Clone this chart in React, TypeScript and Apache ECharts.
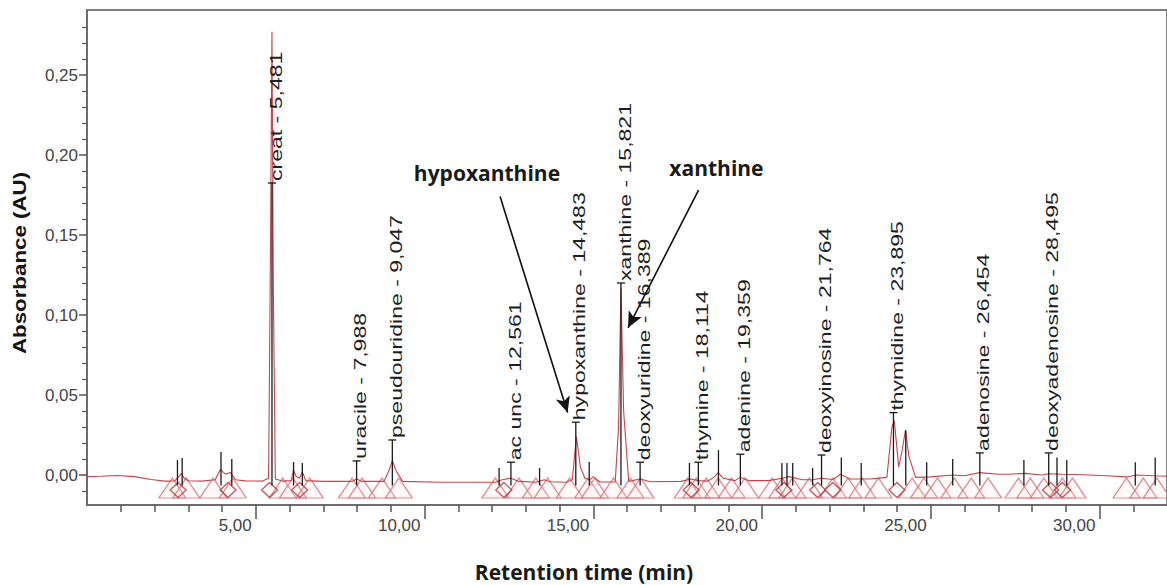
import React, { useEffect, useRef } from "react";
import * as echarts from "echarts";

// ---- chromatogram trace (retention time in min, absorbance in AU) ----
const retentionTimes = [
  0.0, 0.4, 0.9, 1.4, 1.9, 2.3, 2.6, 2.72, 2.8, 2.88,
  3.0, 3.4, 3.8, 3.95, 4.1, 4.25, 4.4, 4.7, 5.2, 5.38,
  5.44, 5.48, 5.52, 5.58, 5.8, 6.05, 6.12, 6.2, 6.3, 6.38,
  6.48, 7.0, 7.85, 7.99, 8.15, 8.8, 8.95, 9.05, 9.15, 9.35,
  10.5, 11.5, 12.1, 12.3, 12.56, 12.8, 13.3, 13.55, 13.7, 14.2,
  14.38, 14.5, 14.62, 14.75, 14.9, 15.0, 15.2, 15.65, 15.75, 15.82,
  15.9, 16.05, 16.39, 16.7, 17.6, 17.9, 18.1, 18.4, 18.6, 18.7,
  18.85, 19.2, 19.36, 19.6, 20.2, 20.6, 20.8, 21.2, 21.5, 21.76,
  22.1, 22.33, 22.6, 23.2, 23.7, 23.85, 23.92, 24.05, 24.15, 24.25,
  24.35, 24.55, 25.0, 25.65, 26.0, 26.45, 27.0, 27.3, 27.8, 28.3,
  28.5, 28.9, 29.5, 30.2, 30.8, 31.1, 31.6, 32.0,
];
const absorbance = [
  -0.001, -0.0008, -0.0003, -0.001, -0.0028, -0.0038, -0.0037, -0.001, 0.001, -0.002,
  -0.0036, -0.0038, -0.003, 0.0035, 0.0005, 0.0015, -0.003, -0.0037, -0.0038, -0.002,
  0.15, 0.277, 0.12, -0.0025, -0.0038, -0.0035, 0.003, -0.001, -0.002, 0.002,
  -0.0035, -0.004, -0.004, -0.0025, -0.004, -0.004, 0.003, 0.009, 0.003, -0.004,
  -0.0045, -0.0045, -0.0045, -0.003, -0.002, -0.004, -0.0045, -0.003, -0.0042, -0.0045,
  -0.003, 0.024, 0.005, -0.002, -0.003, -0.001, -0.0044, -0.0044, 0.03, 0.117,
  0.04, -0.004, -0.0025, -0.0042, -0.004, -0.0025, -0.0035, -0.0038, -0.001, 0.0015,
  -0.002, -0.0035, -0.0015, -0.0035, -0.0035, -0.002, -0.001, -0.003, -0.003, -0.002,
  -0.0028, 0.0005, -0.0025, -0.0025, -0.0015, 0.03, 0.034, 0.005, 0.015, 0.028,
  0.012, -0.0015, -0.0012, 0.0, -0.0005, 0.0015, 0.0005, 0.0005, 0.001, 0.0,
  0.0008, 0.0005, 0.0002, -0.0005, -0.0012, 0.0, -0.0005, -0.0008,
];

// ---- labelled peaks ----
const peakTimes = [5.481, 7.988, 9.047, 12.561, 14.483, 15.821, 16.389, 18.114, 19.359, 21.764, 23.895, 26.454, 28.495];
const peakNames = [
  "creat - 5,481",
  "uracile - 7,988",
  "pseudouridine - 9,047",
  "ac unc - 12,561",
  "hypoxanthine - 14,483",
  "xanthine - 15,821",
  "deoxyuridine - 16,389",
  "thymine - 18,114",
  "adenine - 19,359",
  "deoxyinosine - 21,764",
  "thymidine - 23,895",
  "adenosine - 26,454",
  "deoxyadenosine - 28,495",
];
const peakLabelLevels = [0.1825, 0.0088, 0.0219, 0.008, 0.033, 0.12, 0.008, 0.008, 0.013, 0.0125, 0.039, 0.0138, 0.0138];

// ---- unlabelled integration marks ----
const markerTimes = [2.68, 2.82, 3.97, 4.29, 6.12, 6.38, 12.21, 13.41, 14.88, 17.85, 18.71, 20.59, 20.74, 20.91, 21.5, 22.35, 22.94, 24.26, 24.88, 25.65, 27.76, 28.74, 29.03, 31.06, 31.65];
const markerTops = [0.0094, 0.0106, 0.0144, 0.01, 0.0081, 0.0075, 0.0044, 0.0044, 0.0081, 0.0075, 0.0156, 0.0075, 0.0075, 0.0075, 0.0044, 0.011, 0.0075, 0.028, 0.008, 0.01, 0.0094, 0.011, 0.0094, 0.008, 0.011];
const triangleTimes = [2.53, 2.94, 3.74, 4.32, 5.8, 6.1, 6.6, 7.85, 8.15, 8.74, 9.24, 12.1, 12.8, 13.3, 13.65, 14.3, 14.85, 15.05, 15.6, 16.1, 16.4, 17.8, 18.05, 18.35, 18.7, 19.1, 19.5, 20.3, 20.6, 20.9, 21.4, 22.1, 22.55, 22.97, 23.45, 24.45, 24.8, 25.2, 25.7, 26.2, 26.7, 27.6, 27.95, 28.35, 28.9, 29.2, 30.8, 31.3, 31.7];
const diamondTimes = [2.7, 4.18, 5.41, 6.3, 12.35, 17.9, 20.65, 21.65, 22.1, 24.0, 28.55, 28.9];

// ---- annotations ----
const annotationNames = ["hypoxanthine", "xanthine"];
const annotationTimes = [11.85, 18.65];
const annotationLevels = [0.189, 0.192];
const arrowStartTimes = [12.24, 18.12];
const arrowStartLevels = [0.174, 0.178];
const arrowEndTimes = [14.24, 16.03];
const arrowEndLevels = [0.039, 0.092];

// ---- axis ticks ----
const xMajorTicks = [5, 10, 15, 20, 25, 30];
const xMinorTicks = [1, 2, 3, 4, 6, 7, 8, 9, 11, 12, 13, 14, 16, 17, 18, 19, 21, 22, 23, 24, 26, 27, 28, 29, 31];
const yMajorTicks = [0, 0.05, 0.1, 0.15, 0.2, 0.25];
const yMinorTicks = [-0.01, 0.01, 0.02, 0.03, 0.04, 0.06, 0.07, 0.08, 0.09, 0.11, 0.12, 0.13, 0.14, 0.16, 0.17, 0.18, 0.19, 0.21, 0.22, 0.23, 0.24, 0.26, 0.27, 0.28];

const X_MIN = 0;
const X_MAX = 32;
const Y_MIN = -0.01875;
const Y_MAX = 0.290625;
const MARK_BOTTOM = -0.0065;
const TRIANGLE_LEVEL = -0.0081;
const DIAMOND_LEVEL = -0.0094;

const fmt = (v: number) => v.toFixed(2).replace(".", ",");
const SANS = '"Liberation Sans", Arial, sans-serif';

export default function App() {
  const ref = useRef<HTMLDivElement>(null);
  useEffect(() => {
    if (!ref.current) return;
    const chart = echarts.init(ref.current, undefined, { renderer: "svg" });
    const blackLine = { stroke: "#1b1b1b", lineWidth: 1.3 };

    const option: any = {
      animation: false,
      backgroundColor: "#ffffff",
      grid: {
        left: 87,
        right: -8,
        top: 10,
        bottom: 80,
        show: true,
        borderColor: "#808080",
        borderWidth: 2,
      },
      xAxis: [
        {
          type: "value",
          min: X_MIN,
          max: X_MAX,
          position: "bottom",
          axisLine: { show: true, onZero: false, lineStyle: { color: "#6c6c6c", width: 2 } },
          axisTick: { show: true, length: 14, customValues: xMajorTicks, lineStyle: { color: "#555", width: 1.5 } },
          axisLabel: {
            customValues: xMajorTicks,
            formatter: fmt,
            align: "right",
            padding: [0, 4, 0, 0],
            margin: 12,
            color: "#444",
            fontSize: 17,
            fontFamily: SANS,
          },
          splitLine: { show: false },
        },
        {
          type: "value",
          min: X_MIN,
          max: X_MAX,
          position: "bottom",
          axisLine: { show: false, onZero: false },
          axisTick: { show: true, length: 7, customValues: xMinorTicks, lineStyle: { color: "#555", width: 1.5 } },
          axisLabel: { show: false },
          splitLine: { show: false },
        },
      ],
      yAxis: [
        {
          type: "value",
          min: Y_MIN,
          max: Y_MAX,
          position: "left",
          axisLine: { show: true, onZero: false, lineStyle: { color: "#6c6c6c", width: 2 } },
          axisTick: { show: true, length: 8, customValues: yMajorTicks, lineStyle: { color: "#555", width: 1.5 } },
          axisLabel: {
            customValues: yMajorTicks,
            formatter: fmt,
            margin: 9,
            color: "#444",
            fontSize: 17,
            fontFamily: SANS,
          },
          splitLine: { show: false },
        },
        {
          type: "value",
          min: Y_MIN,
          max: Y_MAX,
          position: "left",
          axisLine: { show: false, onZero: false },
          axisTick: { show: true, length: 5, customValues: yMinorTicks, lineStyle: { color: "#555", width: 1.2 } },
          axisLabel: { show: false },
          splitLine: { show: false },
        },
      ],
      graphic: [
        {
          type: "text",
          x: 20,
          y: 263,
          rotation: Math.PI / 2,
          scaleX: 1.24,
          style: {
            text: "Absorbance (AU)",
            font: 'bold 18px "Liberation Sans", Arial, sans-serif',
            fill: "#151515",
            align: "center",
            verticalAlign: "middle",
          },
        },
        {
          type: "text",
          x: 584,
          y: 572,
          style: {
            text: "Retention time (min)",
            font: 'bold 21px "Open Sans", sans-serif',
            fill: "#1a1a1a",
            align: "center",
            verticalAlign: "middle",
          },
        },
      ],
      series: [
        {
          type: "scatter",
          name: "peak start/end",
          data: triangleTimes.map((t) => [t, TRIANGLE_LEVEL]),
          symbol: "triangle",
          symbolSize: [27, 20],
          itemStyle: { color: "rgba(255,225,225,0.25)", borderColor: "#d9777d", borderWidth: 1.3 },
          silent: true,
          z: 2,
        },
        {
          type: "scatter",
          name: "peak apex",
          data: diamondTimes.map((t) => [t, DIAMOND_LEVEL]),
          symbol: "diamond",
          symbolSize: [16, 15],
          itemStyle: { color: "rgba(0,0,0,0)", borderColor: "#b8383f", borderWidth: 1.4 },
          silent: true,
          z: 2,
        },
        {
          type: "line",
          name: "trace",
          data: retentionTimes.map((t, i) => [t, absorbance[i]]),
          showSymbol: false,
          symbol: "none",
          lineStyle: { color: "#c9434a", width: 1.1 },
          silent: true,
          z: 3,
          markLine: {
            silent: true,
            symbol: ["none", "arrow"],
            symbolSize: [11, 16],
            lineStyle: { color: "#111", width: 1.6, type: "solid" },
            label: { show: false },
            emphasis: { disabled: true },
            data: arrowStartTimes.map((t, i) => [
              { coord: [t, arrowStartLevels[i]] },
              { coord: [arrowEndTimes[i], arrowEndLevels[i]] },
            ]),
          },
          markPoint: {
            silent: true,
            symbol: "rect",
            symbolSize: 1,
            itemStyle: { color: "rgba(0,0,0,0)" },
            label: {
              show: true,
              position: "inside",
              color: "#1a1a1a",
              fontFamily: '"Open Sans", sans-serif',
              fontWeight: "bold",
              fontSize: 21,
              formatter: (p: any) => p.name,
            },
            data: annotationNames.map((n, i) => ({ name: n, coord: [annotationTimes[i], annotationLevels[i]] })),
          },
        },
        {
          type: "custom",
          name: "marks",
          data: markerTimes.map((t, i) => [t, markerTops[i]]),
          silent: true,
          z: 5,
          renderItem: (params: any, api: any) => {
            const top = api.coord([api.value(0), api.value(1)]);
            const bot = api.coord([api.value(0), MARK_BOTTOM]);
            return {
              type: "line",
              shape: { x1: top[0], y1: top[1], x2: bot[0], y2: bot[1] },
              style: blackLine,
            };
          },
        },
        {
          type: "custom",
          name: "labels",
          data: peakTimes.map((t, i) => [t, peakLabelLevels[i]]),
          silent: true,
          z: 6,
          renderItem: (params: any, api: any) => {
            const i = params.dataIndex;
            const top = api.coord([api.value(0), api.value(1)]);
            const bot = api.coord([api.value(0), MARK_BOTTOM]);
            return {
              type: "group",
              children: [
                { type: "line", shape: { x1: bot[0], y1: bot[1], x2: top[0], y2: top[1] }, style: blackLine },
                { type: "line", shape: { x1: top[0] - 4, y1: top[1], x2: top[0] + 4, y2: top[1] }, style: blackLine },
                {
                  type: "text",
                  x: top[0] + 4,
                  y: top[1] - 2,
                  rotation: Math.PI / 2,
                  scaleX: 1.44,
                  style: {
                    text: peakNames[i],
                    fill: "#1e1e1e",
                    font: '16px "Liberation Sans", Arial, sans-serif',
                    align: "left",
                    verticalAlign: "middle",
                  },
                },
              ],
            };
          },
        },
      ],
    };
    chart.setOption(option);
    return () => chart.dispose();
  }, []);
  return (
    <div
      ref={ref}
      style={{ position: "fixed", left: 0, top: 0, width: 1167, height: 585, background: "#fff" }}
    />
  );
}
